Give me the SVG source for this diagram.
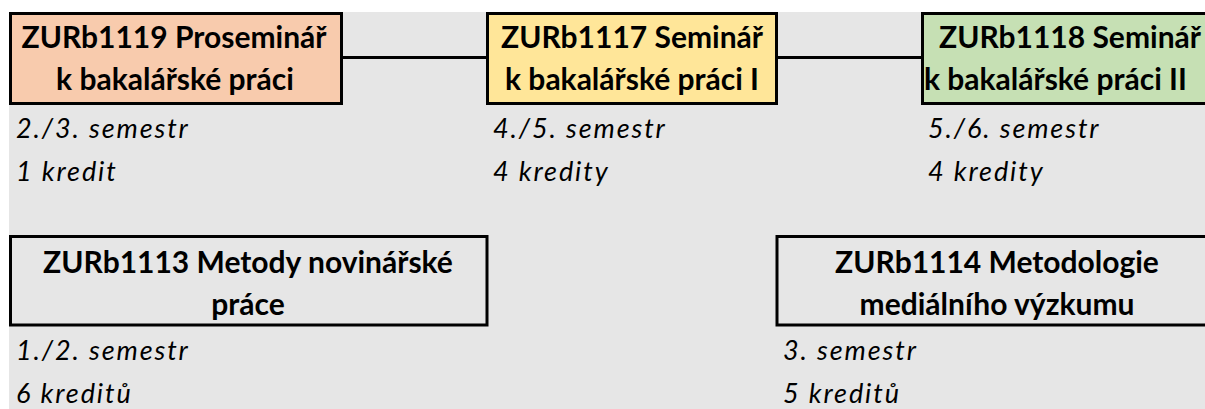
<svg xmlns="http://www.w3.org/2000/svg" width="1205" height="409" viewBox="0 0 1205 409">
<style>
.box{stroke:#000;stroke-width:3}
.t{font-family:Lato,"Open Sans","Liberation Sans",sans-serif;font-weight:bold;font-size:30px;fill:#000}
.i{font-family:Lato,"Open Sans","Liberation Sans",sans-serif;font-style:italic;font-size:27px;letter-spacing:1.9px;fill:#000}
.c{text-anchor:middle}
.ln{stroke:#000;stroke-width:3;fill:none}
</style>
<rect x="0" y="0" width="1205" height="409" fill="#ffffff"/>
<rect x="9" y="12" width="1196" height="397" fill="#e6e6e6"/>
<g id="connectors">
<line class="ln" x1="342" y1="57.5" x2="487" y2="57.5"/>
<line class="ln" x1="777" y1="57.5" x2="922" y2="57.5"/>
</g>
<g id="n1119">
<rect class="box" x="10.5" y="13.5" width="331" height="90" fill="#f8cbad"/>
<text class="t c" x="174" y="48">ZURb1119 Proseminář</text>
<text class="t c" x="175" y="90">k bakalářské práci</text>
<text class="i" x="16" y="138">2./3. semestr</text>
<text class="i" x="16" y="181">1 kredit</text>
</g>
<g id="n1117">
<rect class="box" x="487.5" y="13.5" width="289" height="90" fill="#ffe699"/>
<text class="t c" x="632" y="48">ZURb1117 Seminář</text>
<text class="t c" x="632" y="90">k bakalářské práci I</text>
<text class="i" x="493" y="138">4./5. semestr</text>
<text class="i" x="493" y="181">4 kredity</text>
</g>
<g id="n1118">
<rect class="box" x="922.5" y="13.5" width="300" height="90" fill="#c6e0b4"/>
<text class="t" x="939" y="48">ZURb1118 Seminář</text>
<text class="t" x="924" y="90">k bakalářské práci II</text>
<text class="i" x="928" y="138">5./6. semestr</text>
<text class="i" x="928" y="181">4 kredity</text>
</g>
<g id="n1113">
<rect class="box" x="10.5" y="236.5" width="476.5" height="88.5" fill="none"/>
<text class="t c" x="248" y="273">ZURb1113 Metody novinářské</text>
<text class="t c" x="248" y="315">práce</text>
<text class="i" x="16" y="360">1./2. semestr</text>
<text class="i" x="16" y="403">6 kreditů</text>
</g>
<g id="n1114">
<rect class="box" x="777" y="236.5" width="450" height="88.5" fill="none"/>
<text class="t c" x="997" y="273">ZURb1114 Metodologie</text>
<text class="t c" x="997" y="315">mediálního výzkumu</text>
<text class="i" x="783" y="360">3. semestr</text>
<text class="i" x="783" y="403">5 kreditů</text>
</g>
</svg>
